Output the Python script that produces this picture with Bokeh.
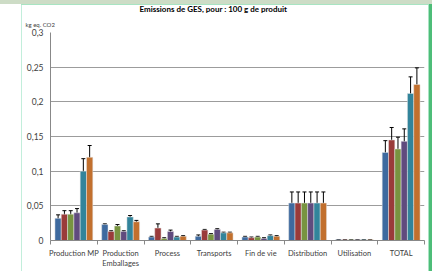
from bokeh.plotting import figure
from bokeh.models import Range1d, FixedTicker, Whisker, ColumnDataSource, TeeHead, Title
from bokeh.embed import file_html
from bokeh.resources import INLINE

categories = ["Production MP", "Production\nEmballages", "Process", "Transports",
              "Fin de vie", "Distribution", "Utilisation", "TOTAL"]
s1 = [0.032, 0.023, 0.005, 0.006, 0.005, 0.054, 0.001, 0.127]
s2 = [0.038, 0.013, 0.018, 0.015, 0.004, 0.054, 0.001, 0.145]
s3 = [0.038, 0.021, 0.003, 0.009, 0.005, 0.054, 0.001, 0.132]
s4 = [0.040, 0.013, 0.013, 0.016, 0.003, 0.054, 0.001, 0.143]
s5 = [0.100, 0.034, 0.005, 0.011, 0.007, 0.054, 0.001, 0.212]
s6 = [0.120, 0.027, 0.006, 0.011, 0.006, 0.054, 0.001, 0.225]
e1 = [0.005, 0.001, 0.001, 0.002, 0.001, 0.016, 0.0003, 0.017]
e2 = [0.005, 0.001, 0.006, 0.001, 0.001, 0.016, 0.0003, 0.018]
e3 = [0.005, 0.002, 0.001, 0.001, 0.001, 0.016, 0.0003, 0.017]
e4 = [0.006, 0.001, 0.002, 0.001, 0.001, 0.016, 0.0003, 0.018]
e5 = [0.018, 0.002, 0.001, 0.001, 0.001, 0.016, 0.0003, 0.024]
e6 = [0.017, 0.002, 0.001, 0.001, 0.001, 0.016, 0.0003, 0.024]
series = [s1, s2, s3, s4, s5, s6]
errors = [e1, e2, e3, e4, e5, e6]
colors = ["#3E6A9F", "#9A3B3A", "#789440", "#604B7E", "#32849B", "#C2702E"]
y_ticks = [0, 0.05, 0.1, 0.15, 0.2, 0.25, 0.3]
y_labels = ["0", "0,05", "0,1", "0,15", "0,2", "0,25", "0,3"]
title_text = "Emissions de GES, pour : 100 g de produit"
unit_text = "kg eq. CO2"

FONT = "Lato"
n = len(categories)
p = figure(width=432, height=271, output_backend="svg", toolbar_location=None,
           x_range=Range1d(0, n), y_range=Range1d(0, 0.3),
           min_border_left=50, min_border_right=8, min_border_top=32, min_border_bottom=29)
p.outline_line_color = None
p.background_fill_color = "white"
p.border_fill_alpha = 0

# decorative page frame (green rules of the original screenshot), drawn as CSS background
p.styles = {"background": (
    "linear-gradient(#cddcc6,#cddcc6) 0px 0px / 432px 4px no-repeat, "
    "linear-gradient(#a8e4c2,#a8e4c2) 21px 4px / 408px 1px no-repeat, "
    "linear-gradient(#c2eedb,#c2eedb) 21px 4px / 1px 267px no-repeat, "
    "linear-gradient(#a8e4c2,#a8e4c2) 428px 4px / 1px 267px no-repeat, "
    "linear-gradient(#4dbd78,#4dbd78) 429px 4px / 3px 267px no-repeat, white")}

bw = 0.135
for k, (vals, errs, col) in enumerate(zip(series, errors, colors)):
    xs = [i + 0.5 + (k - 2.5) * bw for i in range(n)]
    src = ColumnDataSource(dict(x=xs, top=vals,
                                up=[v + e for v, e in zip(vals, errs)],
                                lo=[v - e for v, e in zip(vals, errs)]))
    p.vbar(x="x", top="top", width=bw, source=src, fill_color=col,
           line_color="#e4e4e4", line_width=0.5)
    p.add_layout(Whisker(base="x", upper="up", lower="lo", source=src, line_color="black",
                         line_width=1,
                         upper_head=TeeHead(size=4, line_color="black", line_width=1),
                         lower_head=TeeHead(size=4, line_color="black", line_width=1)))

xa = p.xaxis[0]
xa.ticker = FixedTicker(ticks=[i + 0.5 for i in range(n)], minor_ticks=list(range(n + 1)))
xa.major_label_overrides = {i + 0.5: c for i, c in enumerate(categories)}
xa.major_tick_line_color = None
xa.major_tick_out = 0
xa.major_tick_in = 0
xa.minor_tick_line_color = "#888888"
xa.minor_tick_out = 4
xa.minor_tick_in = 0
xa.axis_line_color = "#888888"
xa.major_label_text_font = FONT
xa.major_label_text_font_size = "7.5px"
xa.major_label_text_color = "#404040"
xa.major_label_standoff = 4

ya = p.yaxis[0]
ya.ticker = FixedTicker(ticks=y_ticks)
ya.major_label_overrides = {t: l for t, l in zip(y_ticks, y_labels)}
ya.major_tick_line_color = None
ya.major_tick_out = 0
ya.major_tick_in = 0
ya.minor_tick_line_color = None
ya.axis_line_color = "#888888"
ya.major_label_text_font = FONT
ya.major_label_text_font_size = "8.5px"
ya.major_label_text_color = "#404040"
ya.major_label_standoff = 7

p.xgrid.visible = False
p.ygrid.grid_line_color = "#9c9c9c"
p.ygrid.grid_line_width = 1

p.add_layout(Title(text=unit_text, align="left", offset=-25, standoff=9,
                   text_font=FONT, text_font_size="6px", text_font_style="normal",
                   text_color="#404040"), "above")
p.add_layout(Title(text=title_text, align="left", offset=89, standoff=1,
                   text_font=FONT, text_font_size="8px", text_font_style="bold",
                   text_color="black"), "above")

open("out.html", "w").write(file_html(p, INLINE))
